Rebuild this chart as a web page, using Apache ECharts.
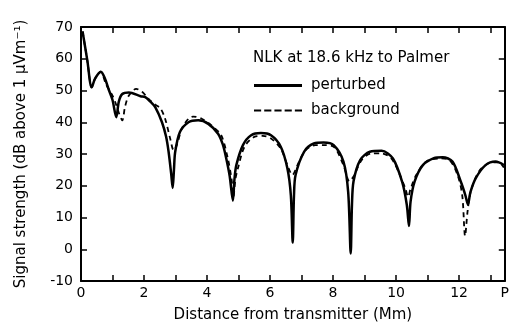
<!DOCTYPE html>
<html>
<head>
<meta charset="utf-8">
<script src="https://cdn.jsdelivr.net/npm/echarts@6/dist/echarts.min.js"></script>
<style>
html,body{margin:0;padding:0;background:#fff;}
#chart{width:512px;height:328px;}
</style>
</head>
<body>
<div id="chart"></div>
<script>
// distance (Mm), signal (dB above 1 uV/m)
var perturbed=[[0.05,68.6],[0.2,59.5],[0.34,51.0],[0.45,53.8],[0.63,55.9],[0.75,54],[0.89,50],[1.0,47],[1.12,41.6],[1.2,46.5],[1.31,48.9],[1.52,49.4],[1.89,48.2],[2.04,47.9],[2.2,46.5],[2.36,44.7],[2.57,40],[2.7,35.5],[2.78,30.7],[2.86,24],[2.91,19.3],[2.95,25],[2.99,30.7],[3.14,36.9],[3.41,40],[3.72,40.6],[4.04,39.5],[4.35,36.4],[4.5,33],[4.61,28.6],[4.72,23],[4.82,15.3],[4.87,22],[4.93,26.5],[5.14,32.8],[5.4,35.9],[5.71,36.6],[6.03,35.9],[6.34,32.3],[6.55,25.5],[6.66,17],[6.72,2.1],[6.76,17],[6.81,23.4],[7.08,30.7],[7.39,33.3],[7.7,33.6],[8.02,32.8],[8.33,27.6],[8.48,18],[8.56,-1.3],[8.6,14],[8.65,21.4],[8.86,28.1],[9.17,30.7],[9.54,31.0],[9.9,28.6],[10.2,21],[10.34,14],[10.41,7.3],[10.46,15],[10.59,21.4],[10.85,26.5],[11.2,28.7],[11.48,29.0],[11.79,27.6],[12.05,21.4],[12.2,17],[12.28,14.1],[12.36,18],[12.53,22.4],[12.84,26.5],[13.16,27.6],[13.42,26.5]];
var background=[[0.05,68.6],[0.2,59.5],[0.34,51.0],[0.45,53.8],[0.63,55.9],[0.79,52],[1.0,48.4],[1.1,46],[1.2,43],[1.31,40.6],[1.4,45],[1.52,48.4],[1.75,50.5],[1.94,49.6],[2.15,47.3],[2.36,45.5],[2.52,44.4],[2.67,41.1],[2.83,34.9],[2.94,31.2],[3.04,32.8],[3.2,38.0],[3.41,41.1],[3.56,41.8],[3.83,41.1],[4.14,39.0],[4.45,35.9],[4.66,28.6],[4.78,22],[4.84,16.7],[4.9,22],[4.98,25.5],[5.19,32.3],[5.5,35.4],[5.77,35.7],[6.03,34.9],[6.34,31.7],[6.55,26.5],[6.71,23.4],[6.87,26.5],[7.13,31.2],[7.44,32.8],[7.7,32.8],[8.02,32.3],[8.33,26.5],[8.52,21.4],[8.65,22.9],[8.91,28.1],[9.22,30.2],[9.54,30.2],[9.85,28.6],[10.12,23.4],[10.3,19],[10.38,16.5],[10.46,19],[10.64,23.4],[10.95,27.6],[11.37,28.6],[11.69,28.1],[11.95,23.4],[12.1,17],[12.19,4.2],[12.27,12],[12.37,18.2],[12.63,24.5],[12.95,27.1],[13.26,27.4],[13.42,25.7]];
var xMin=0,xMax=13.45,xStep=1;
var yMin=-10,yMax=70,yStep=10;
var endLabel='P';

var font='"DejaVu Sans", sans-serif';
var myChart=echarts.init(document.getElementById('chart'));

var axisBase={
    axisLine:{show:true,onZero:false,lineStyle:{color:'#000',width:2}},
    axisTick:{show:true,inside:true,length:6,lineStyle:{color:'#000',width:1.5}},
    splitLine:{show:false}
};

// legend icons: a plain bar and a dashed bar
var solidIcon='path://M0,0h48v3h-48z';
var dashIcon='path://M0,0h7v2h-7z M10,0h7v2h-7z M20,0h7v2h-7z M30,0h7v2h-7z M40,0h7v2h-7z';

var option={
    backgroundColor:'#fff',
    animation:false,
    title:{
        text:'NLK at 18.6 kHz to Palmer',
        left:248,top:46,
        textStyle:{fontFamily:font,fontSize:15,fontWeight:'normal',color:'#000'}
    },
    legend:{
        orient:'vertical',
        left:249,top:73,
        itemWidth:48,itemHeight:3,itemGap:10,
        textStyle:{fontFamily:font,fontSize:15,color:'#000',padding:[0,0,0,4]},
        data:[
            {name:'perturbed',icon:solidIcon},
            {name:'background',icon:dashIcon}
        ]
    },
    grid:{left:81,right:3,top:27,bottom:44},
    xAxis:[
        echarts.util.merge({
            type:'value',min:xMin,max:xMax,interval:xStep,
            name:'Distance from transmitter (Mm)',
            nameLocation:'middle',nameGap:27,
            nameTextStyle:{fontFamily:font,fontSize:15,color:'#000'},
            axisLabel:{
                fontFamily:font,fontSize:14,color:'#000',margin:5,
                showMaxLabel:true,
                formatter:function(v){
                    if(v===xMax){return endLabel;}
                    return v%2===0?String(v):'';
                }
            }
        },axisBase),
        echarts.util.merge({
            type:'value',min:xMin,max:xMax,interval:xStep,position:'top',
            axisLabel:{show:false}
        },axisBase)
    ],
    yAxis:[
        echarts.util.merge({
            type:'value',min:yMin,max:yMax,interval:yStep,
            name:'Signal strength (dB above 1 \u03bcVm\u207b\u00b9)',
            nameLocation:'middle',nameGap:52,
            nameTextStyle:{fontFamily:font,fontSize:15,color:'#000'},
            axisLabel:{fontFamily:font,fontSize:14,color:'#000',margin:8}
        },axisBase),
        echarts.util.merge({
            type:'value',min:yMin,max:yMax,interval:yStep,position:'right',
            axisLabel:{show:false}
        },axisBase)
    ],
    series:[
        {
            name:'perturbed',type:'line',data:perturbed,
            showSymbol:false,symbol:'none',smooth:0.3,
            lineStyle:{color:'#000',width:2.5,type:'solid'},
            itemStyle:{color:'#000'}
        },
        {
            name:'background',type:'line',data:background,
            showSymbol:false,symbol:'none',smooth:0.3,
            lineStyle:{color:'#000',width:1.8,type:[5,4]},
            itemStyle:{color:'#000'}
        }
    ]
};

myChart.setOption(option);
</script>
</body>
</html>
